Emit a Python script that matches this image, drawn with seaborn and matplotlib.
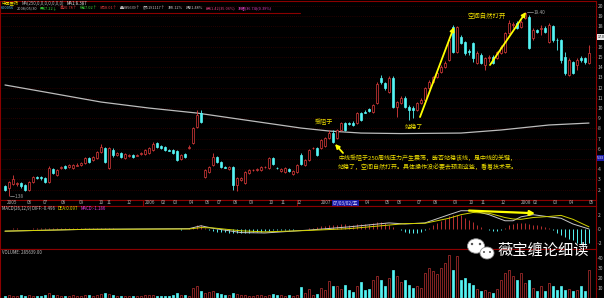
import matplotlib
matplotlib.use("Agg")
import matplotlib.pyplot as plt
import numpy as np
import pandas as pd
import seaborn as sns
from matplotlib.patches import Ellipse, Circle

sns.set_theme(style="dark", rc={"axes.facecolor": "black", "figure.facecolor": "black",
                                "axes.edgecolor": "#8b0000", "axes.grid": False})
plt.rcParams["font.family"] = ["Noto Sans CJK SC", "DejaVu Sans"]
plt.rcParams["axes.unicode_minus"] = False

# ---------------- data (weekly candles, 2005-05 .. 2008-05) ----------------
opens = [2.36, 2.17, 2.56, 2.56, 2.65, 2.46, 1.97, 2.75, 3.24, 3.24,
         3.15, 2.75, 4.03, 3.44, 4.13, 4.32, 4.22, 4.13, 4.37, 4.42,
         4.62, 5.11, 4.91, 5.11, 5.69, 6.09, 4.13, 5.89, 5.40, 5.60,
         5.11, 5.35, 5.40, 5.35, 5.50, 5.50, 5.60, 5.89, 6.57, 6.28,
         6.18, 5.89, 5.89, 5.79, 5.01, 5.50, 6.09, 6.57, 8.14, 9.51,
         3.24, 3.73, 4.42, 5.20, 4.71, 4.22, 4.03, 4.22, 2.46, 2.95,
         2.65, 3.63, 3.93, 3.93, 3.93, 4.22, 4.13, 5.11, 4.13, 3.83,
         3.73, 4.03, 3.54, 3.73, 5.40, 4.42, 4.91, 6.09, 6.09, 6.09,
         6.28, 7.06, 7.55, 7.06, 7.85, 8.53, 8.53, 8.53, 8.53, 9.51,
         9.61, 9.91, 9.61, 10.49, 12.94, 12.45, 11.57, 12.94, 10.10, 10.49,
         10.98, 10.10, 10.00, 9.81, 10.49, 10.79, 11.96, 12.55, 13.04, 13.53,
         14.02, 14.71, 17.94, 15.49, 16.96, 16.47, 15.59, 16.37, 14.41, 15.20,
         14.22, 14.90, 15.00, 14.90, 15.39, 15.49, 17.36, 18.14, 18.33, 17.94,
         18.82, 18.92, 16.87, 17.65, 17.75, 17.84, 16.47, 18.04, 16.67, 16.67,
         15.00, 13.24, 14.51, 14.22, 14.90, 14.90, 14.41]
closes = [1.97, 2.75, 3.05, 2.65, 2.36, 1.97, 2.75, 3.24, 3.19, 3.15,
          2.75, 4.13, 3.63, 3.93, 4.22, 4.13, 4.42, 4.42, 4.42, 4.62,
          5.11, 4.71, 5.20, 5.69, 6.18, 4.71, 6.09, 5.40, 5.60, 5.20,
          5.50, 5.40, 5.20, 5.40, 5.60, 5.89, 6.09, 6.47, 6.18, 6.09,
          5.89, 5.84, 5.60, 4.91, 5.40, 5.20, 6.18, 8.04, 9.32, 8.63,
          3.93, 4.22, 5.20, 4.71, 4.22, 4.17, 4.22, 2.46, 3.15, 3.15,
          3.73, 3.93, 3.95, 4.03, 4.22, 4.24, 5.11, 4.52, 4.11, 4.03,
          4.13, 3.83, 3.83, 4.42, 4.52, 4.91, 5.89, 6.11, 5.40, 6.87,
          7.06, 7.55, 6.67, 7.85, 8.53, 7.85, 8.44, 8.34, 9.51, 8.83,
          9.56, 9.71, 10.30, 12.36, 12.55, 11.96, 12.94, 10.10, 10.59, 10.98,
          10.10, 9.81, 9.81, 10.49, 10.79, 11.96, 12.55, 13.04, 13.43, 14.02,
          14.41, 16.67, 15.49, 17.94, 16.37, 15.39, 15.49, 14.90, 15.39, 14.41,
          14.90, 15.00, 14.41, 15.49, 15.98, 17.36, 18.33, 18.24, 17.84, 18.43,
          19.31, 15.88, 17.65, 17.45, 17.84, 17.45, 18.14, 16.67, 16.62, 14.71,
          13.43, 14.71, 13.43, 14.71, 14.71, 14.51, 15.39]
highs = [2.46, 2.85, 3.44, 2.75, 2.75, 2.56, 2.85, 3.34, 3.34, 3.34,
         3.24, 4.32, 4.13, 4.03, 4.32, 4.42, 4.52, 4.52, 4.62, 4.71,
         5.20, 5.20, 5.30, 5.79, 6.47, 6.18, 6.18, 6.09, 5.69, 5.69,
         5.60, 5.50, 5.50, 5.50, 5.69, 5.99, 6.18, 6.67, 6.67, 6.38,
         6.28, 5.99, 5.99, 5.89, 5.50, 5.60, 6.38, 8.14, 9.81, 9.81,
         4.03, 4.32, 5.60, 5.30, 4.81, 4.32, 4.32, 4.32, 3.24, 3.24,
         3.83, 4.03, 4.03, 4.13, 4.32, 4.32, 5.20, 5.20, 4.22, 4.13,
         4.22, 4.13, 3.93, 4.52, 5.60, 5.01, 5.99, 6.18, 6.18, 6.97,
         7.16, 7.85, 7.85, 7.95, 8.63, 8.63, 8.63, 8.73, 9.61, 9.61,
         9.81, 10.00, 10.40, 12.55, 13.24, 12.55, 13.14, 13.14, 10.69, 11.18,
         11.18, 10.30, 10.20, 10.59, 10.98, 12.06, 12.75, 13.14, 13.63, 14.22,
         14.61, 16.87, 18.14, 18.04, 17.16, 16.57, 15.79, 16.47, 15.59, 15.39,
         15.00, 15.20, 15.20, 15.59, 16.18, 17.45, 18.63, 18.43, 18.53, 18.63,
         19.41, 19.12, 17.84, 17.75, 18.14, 18.04, 18.33, 18.14, 16.87, 16.77,
         15.49, 14.90, 14.61, 14.90, 15.10, 15.00, 16.18]
lows = [1.87, 1.38, 2.46, 2.36, 2.17, 1.87, 1.87, 2.65, 3.05, 2.95,
        2.65, 2.65, 3.54, 3.34, 4.03, 4.03, 4.13, 4.03, 4.32, 4.32,
        4.52, 4.62, 4.81, 5.01, 5.60, 4.62, 4.03, 5.20, 5.30, 5.11,
        5.01, 5.20, 5.11, 5.30, 5.40, 5.40, 5.50, 5.79, 6.09, 5.99,
        5.79, 5.79, 5.50, 4.81, 4.91, 5.11, 5.99, 6.47, 8.04, 8.53,
        3.15, 3.63, 4.32, 4.62, 4.13, 4.13, 3.93, 1.97, 1.87, 2.85,
        2.56, 3.54, 3.83, 3.83, 3.83, 4.13, 4.03, 4.42, 4.03, 3.73,
        3.63, 3.73, 3.44, 3.63, 4.42, 4.32, 4.81, 5.99, 5.30, 5.99,
        6.18, 6.97, 6.57, 6.97, 7.75, 7.75, 8.34, 8.24, 8.44, 8.73,
        9.51, 9.61, 9.51, 10.40, 12.36, 11.77, 11.47, 10.00, 9.12, 10.40,
        10.00, 8.83, 9.02, 9.71, 10.40, 10.69, 11.87, 12.45, 12.94, 13.43,
        13.92, 14.61, 15.39, 15.39, 16.28, 15.20, 15.20, 14.51, 14.32, 14.32,
        13.73, 14.51, 14.32, 14.81, 15.30, 15.39, 17.26, 17.84, 17.75, 17.84,
        18.73, 15.79, 16.67, 17.36, 17.16, 17.36, 16.37, 16.47, 15.69, 14.41,
        13.24, 13.14, 13.34, 13.73, 14.51, 14.32, 14.32]
# weekly volume, 万手
volumes = [2, 3, 2, 2, 3, 2, 3, 2, 2, 2, 3, 5, 3, 3, 2, 2, 2, 3, 2, 2,
           3, 3, 2, 3, 4, 5, 4, 3, 2, 2, 2, 2, 2, 2, 2, 3, 3, 3, 2, 2,
           2, 2, 3, 5, 3, 3, 2, 10, 12, 7, 5, 6, 7, 5, 4, 3, 3, 5,
           4, 3, 3, 2, 2, 3, 3, 2, 3, 4, 3, 3, 2, 3, 2, 3,
           11, 5, 9, 3, 4, 10, 8, 17, 12, 12, 9, 13, 8, 6, 12, 16, 8, 9, 18, 22,
           18, 12, 20, 28, 22, 16, 18, 13, 10, 12, 10, 25, 30, 27, 24, 30, 35, 43, 28, 42,
           18, 20, 15, 13, 9, 7, 8, 6, 5, 9, 18, 25, 28, 22, 18, 25, 15, 18, 10, 7,
           12, 7, 15, 12, 8, 12, 8, 9, 7, 8, 12, 7, 28]
macd_bars = [0.05, 0.05, 0.08, 0.08, 0.06, 0.04, 0.05, 0.08, 0.1, 0.1,
             0.08, 0.12, 0.12, 0.12, 0.14, 0.12, 0.12, 0.12, 0.1, 0.1,
             0.12, 0.1, 0.1, 0.12, 0.15, 0.1, 0.12, 0.08, 0.06, 0.04,
             0.02, -0.02, -0.04, -0.05, -0.06, -0.05, -0.04, -0.02, 0.02, 0.02,
             0.02, 0.0, -0.02, -0.06, -0.08, -0.06,
             0.1, 0.3, 0.55, 0.5, 0.1,
             -0.2, -0.3, -0.35, -0.4, -0.45, -0.55, -0.6, -0.6, -0.55, -0.5, -0.5, -0.45, -0.4, -0.35, -0.3, -0.25,
             -0.2, -0.18, -0.16, -0.14, -0.12, -0.1, -0.05, 0.02, 0.05, 0.1,
             0.2, 0.25, 0.35, 0.45, 0.55, 0.55, 0.6, 0.65, 0.65, 0.6, 0.55, 0.65, 0.65, 0.7, 0.75, 0.85, 1.0, 0.95, 0.8,
             0.6, 0.3, 0.0, -0.2, -0.35, -0.5, -0.6, -0.5, -0.35, -0.1, 0.2,
             0.5, 0.8, 1.1, 1.4, 1.8, 1.9, 2.0, 1.9, 1.6, 1.3, 1.0,
             0.6, 0.3, 0.0, -0.2, -0.3, -0.3, -0.2, 0.1,
             0.5, 0.7, 0.8, 0.85, 0.9, 0.7, 0.6, 0.5, 0.4, 0.3,
             0.1, -0.2, -0.5, -0.8, -1.1, -1.4, -1.6, -1.9, -2.1, -2.2, -2.0]
line_idx = [0, 20, 46, 49, 52, 59, 65, 76, 86, 96, 100, 105, 111, 114, 117, 121, 125, 127, 129, 132, 136, 139, 142, 146]
diff_vals = [-0.3, -0.05, 0.05, 0.45, 0.1, -0.5, -0.55, -0.15, 0.3, 0.85, 0.7, 0.85, 2.0, 2.55, 2.55, 2.0, 1.15, 1.15, 1.7, 2.0, 1.7, 1.5, 0.7, 0.0]
dea_vals = [-0.3, -0.05, 0.0, 0.2, 0.15, -0.25, -0.4, -0.2, 0.05, 0.55, 0.75, 0.8, 1.5, 2.0, 2.3, 2.2, 1.6, 1.4, 1.35, 1.6, 1.75, 1.9, 1.35, 0.3]
ma_idx = [0, 12, 24, 36, 48, 60, 74, 81, 89, 99, 114, 124, 136, 146]
ma_vals = [12.26, 11.43, 10.59, 10.00, 9.51, 8.83, 8.04, 7.75, 7.55, 7.50, 7.55, 7.85, 8.34, 8.53]
price_ticks = list(range(2, 21))
date_labels = ["2005", "06", "07", "08", "09", "10", "11", "12",
               "2006", "02", "03", "04", "06", "07", "08", "09", "10", "11", "12",
               "2007", "04", "05", "06", "07", "08", "09", "10", "11", "12",
               "2008", "02", "03", "04", "05"]
date_pos = [0.5, 5.5, 9.5, 14, 18.5, 23.5, 25.5, 30.5,
            35, 39, 42, 46, 50, 53, 57, 61, 66, 69, 73,
            79, 90, 95, 98, 103, 107, 112, 116, 119, 124,
            129, 132, 137, 141, 146]

# ---------------- drawing ----------------
W, H = 604, 298


def rect(x0, y0, x1, y1):
    return [x0 / W, 1 - y1 / H, (x1 - x0) / W, (y1 - y0) / H]


o = np.array(opens); c = np.array(closes); h = np.array(highs); l = np.array(lows)
n = len(c)
idx = np.arange(n)
up = c >= o
RED = "#e03c3c"
VRED = "#b83030"
CYAN = "#54f4f4"
col = np.where(up, RED, CYAN)
vcol = np.where(up, VRED, CYAN)
face = np.where(up, "black", CYAN)
XL = (-1.25, 147.75)
YEL = "#f0e000"

fig = plt.figure(figsize=(W / 100, H / 100), dpi=100)
fig.patch.set_facecolor("black")


def style(ax):
    ax.set_facecolor("black")
    for s in ax.spines.values():
        s.set_color("#8b0000")
        s.set_linewidth(0.8)
    ax.set_xticks([])
    ax.yaxis.tick_right()
    ax.tick_params(axis="y", direction="out", length=1.0, width=0.5, color="#8b0000",
                   labelsize=3.6, labelcolor="#b8b8b8", pad=0.4)


# main price panel
ax = fig.add_axes(rect(0, 1, 596, 200))
style(ax)
for t in price_ticks:
    ax.axhline(t, color="#4a0000", lw=0.5, ls=(0, (1, 2)), zorder=0)
sns.lineplot(x=ma_idx, y=ma_vals, ax=ax, color="#bcbcbc", linewidth=0.9, zorder=1)
ax.vlines(idx, l, h, colors=col, lw=0.6, zorder=2)
ax.bar(idx, np.maximum(np.abs(c - o), 0.04), bottom=np.minimum(o, c), width=0.68,
       color=face, edgecolor=col, linewidth=0.5, zorder=3)
ax.set_xlim(*XL)
ax.set_ylim(0.99, 20.49)
ax.set_yticks(price_ticks)
# labels hidden under the price tags on the right edge
ax.set_yticklabels(["" if t in (5, 17) else str(t) for t in price_ticks])
ax.set_xlabel(""); ax.set_ylabel("")

ap = dict(arrowstyle="-|>", color="#ffff00", lw=1.3, mutation_scale=6, shrinkA=0, shrinkB=0)
ax.annotate("", xy=(82.5, 6.48), xytext=(84.5, 5.60), arrowprops=ap, zorder=5)
ax.annotate("", xy=(112.25, 17.94), xytext=(103.75, 9.12), arrowprops=ap, zorder=5)
ax.annotate("", xy=(130.25, 19.41), xytext=(121.25, 14.22), arrowprops=ap, zorder=5)
ax.text(79.75, 8.63, "受阻于", color=YEL, fontsize=4.4, ha="center", va="center", zorder=6)
ax.text(102.25, 8.14, "站稳了", color=YEL, fontsize=4.4, ha="center", va="center", zorder=6)
ax.text(120.5, 19.02, "空间自然打开", color=YEL, fontsize=4.6, ha="center", va="center", zorder=6)
ax.text(83.25, 5.10, "中线受阻于250周线压力产生震荡，能否站稳该线，是中线的关键，",
        color=YEL, fontsize=4.3, ha="left", va="center", zorder=6)
ax.text(83.25, 4.22, "站稳了，空间自然打开。具体操作没必要去预测这些，看着技术来。",
        color=YEL, fontsize=4.3, ha="left", va="center", zorder=6)
ax.plot([130.5, 132.0], [19.41, 19.41], color="#a0a0a0", lw=0.5)
ax.text(132.2, 19.41, "19.40", color="#a0a0a0", fontsize=3.4, ha="left", va="center")
ax.plot([1.3, 2.2], [1.38, 1.38], color="#a0a0a0", lw=0.5)
ax.text(2.3, 1.38, "1.38", color="#a0a0a0", fontsize=3.4, ha="left", va="center")

# date strip
axd = fig.add_axes(rect(0, 200, 596, 206))
style(axd)
axd.set_yticks([])
axd.set_xlim(*XL); axd.set_ylim(0, 1)
for p, lab in zip(date_pos, date_labels):
    axd.text(p, 0.5, lab, fontsize=3.3, color="#b0b0b0", ha="left", va="center")
axd.text(81.9, 0.5, "07/03/02/五", fontsize=3.3, color="#e0e0ff", ha="left", va="center",
         bbox=dict(boxstyle="square,pad=0.15", fc="#1c1ca8", ec="none"))
for sep in (34.5, 73.0):
    axd.axvline(sep, color="#8b0000", lw=0.8)

# MACD panel
axm = fig.add_axes(rect(0, 206, 596, 249))
style(axm)
mb = np.array(macd_bars)
axm.vlines(idx, 0, mb, colors=np.where(mb >= 0, VRED, CYAN), lw=0.7)
sns.lineplot(x=line_idx, y=diff_vals, ax=axm, color="#c8c8c8", linewidth=0.7)
sns.lineplot(x=line_idx, y=dea_vals, ax=axm, color="#d2d200", linewidth=0.7)
axm.annotate("", xy=(132.5, 2.2), xytext=(116, 2.57),
             arrowprops=dict(arrowstyle="-|>", color="#ffff00", lw=1.6, mutation_scale=7,
                             shrinkA=0, shrinkB=0))
axm.set_xlim(*XL); axm.set_ylim(-2.79, 3.21)
axm.set_yticks([-2, 0, 2])
axm.set_xlabel(""); axm.set_ylabel("")

# volume panel
axv = fig.add_axes(rect(0, 249, 596, 298))
style(axv)
axv.bar(idx, volumes, width=0.68, color=face, edgecolor=vcol, linewidth=0.5)
axv.set_xlim(*XL); axv.set_ylim(-0.5, 48.5)
axv.set_yticks([10, 20, 30, 40])

# overlay for header texts, labels and watermark (pixel coordinates)
ov = fig.add_axes([0, 0, 1, 1])
ov.set_xlim(0, W); ov.set_ylim(H, 0)
ov.axis("off")
ov.patch.set_alpha(0)
ov.plot([0, 300], [12.7, 12.7], color="#8b0000", lw=0.8)
renderer = fig.canvas.get_renderer()


def row(items, x0, y, fs):
    x = x0
    for s, cc in items:
        t = ov.text(x, y, s, color=cc, fontsize=fs, va="center", ha="left")
        x += t.get_window_extent(renderer=renderer).width + 2.5


row([("中国医药", "#f0e000"), ("MA(250,0,0,0,0,0,0,0)", "#b0b0b0"), ("MA1:8.387", "#e0e0e0")], 2, 3.2, 3.1)
row([("600056", "#54c8fc"), ("2008/05/30", "#c0c0c0"), ("开17.22↓", "#3ce03c"),
     ("高20.78↑", "#e03c3c"), ("低17.02↑", "#3ce03c"), ("收18.01↑", "#e03c3c"),
     ("量285639↑", "#c0c0c0"), ("额5191117↑", "#c0c0c0"), ("涨0.12%", "#c0c0c0"),
     ("振21.48%", "#c0c0c0"), ("换11.42(35.06%)", "#e04080"),
     ("涨幅(36.74)(0.39%)", "#e040c0")], 1, 8.2, 2.8)
row([("MACD(26,12,9) DIFF:-0.496", "#c0c0c0"), ("DEA:0.097", "#e0e000"),
     ("MACD:-1.186", "#e040e0")], 2, 208.6, 3.1)
ov.text(2, 252, "VOLUME: 285639.00", color="#c0c0c0", fontsize=3.1, va="center")

# price tags on right axis
ov.text(597.3, 158, "5.33", color="white", fontsize=2.6, va="center", ha="left",
        bbox=dict(boxstyle="square,pad=0.2", fc="#1c1ca8", ec="none"), zorder=12)
ov.text(597.3, 37, "17.0", color="black", fontsize=2.6, va="center", ha="left",
        bbox=dict(boxstyle="square,pad=0.15", fc="#e8e8e8", ec="none"), zorder=12)

# watermark
ov.add_patch(Ellipse((476, 246), 17, 14.5, fc="white", ec="#909090", lw=0.6, zorder=8))
ov.add_patch(Ellipse((487, 253), 14, 12, fc="white", ec="#909090", lw=0.6, zorder=9))
for ex, ey, r in [(472, 244, 1.2), (480, 244, 1.2), (484, 252, 1.0), (490, 252, 1.0)]:
    ov.add_patch(Circle((ex, ey), r, fc="#505050", ec="none", zorder=10))
ov.text(497, 250, "薇宝缠论细读", color="white", fontsize=11, va="center", ha="left",
        fontweight="medium", zorder=10)

fig.savefig("out.png", dpi=100, facecolor="black")
